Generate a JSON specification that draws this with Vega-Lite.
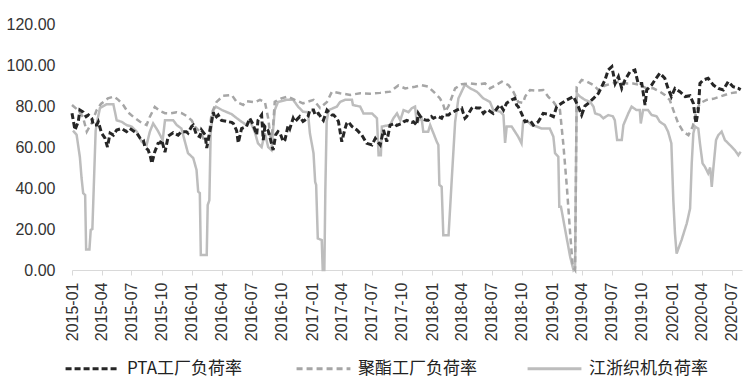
{
  "$schema": "https://vega.github.io/schema/vega-lite/v6.json",
  "autosize": "none",
  "width": 670,
  "height": 246,
  "padding": {"left": 72, "top": 24, "right": 12, "bottom": 115},
  "background": "white",
  "config": {
    "view": {"stroke": null},
    "font": "Liberation Sans",
    "axis": {"labelFont": "Liberation Sans", "labelFontSize": 16, "labelColor": "#333333", "grid": false}
  },
  "encoding": {
    "x": {
      "field": "d", "type": "temporal",
      "scale": {"type": "utc", "domain": ["2015-01-01", "2020-08-01"]},
      "axis": {"title": null, "format": "%Y-%m", "tickCount": {"interval": "month", "step": 3}, "labelAngle": -90, "domainColor": "#d9d9d9", "tickColor": "#d9d9d9", "tickSize": 5, "labelPadding": 7, "labelFlush": false, "labelOverlap": false}
    },
    "y": {
      "field": "v", "type": "quantitative",
      "scale": {"domain": [0, 120], "nice": false},
      "axis": {"title": null, "values": [0, 20, 40, 60, 80, 100, 120], "format": ".2f", "domain": false, "ticks": false, "labelPadding": 17}
    },
    "color": {
      "scale": {"domain": ["PTA工厂负荷率", "聚酯工厂负荷率", "江浙织机负荷率"], "range": ["#262626", "#A6A6A6", "#BDBDBD"]},
      "legend": {"title": null, "orient": "none", "legendX": -8, "legendY": 316, "direction": "horizontal", "columns": 3, "gridAlign": "all", "columnPadding": 44, "symbolType": "stroke", "symbolSize": 2900, "symbolStrokeWidth": 3, "labelFont": "Noto Sans CJK SC", "labelFontSize": 17, "labelColor": "#222222", "labelOffset": 6, "labelLimit": 300}
    },
    "strokeDash": {
      "scale": {"domain": ["PTA工厂负荷率", "聚酯工厂负荷率", "江浙织机负荷率"], "range": [[6, 3], [6, 4], [1, 0]]},
      "legend": {"title": null, "orient": "none", "legendX": -8, "legendY": 316, "direction": "horizontal", "columns": 3, "gridAlign": "all", "columnPadding": 44, "symbolType": "stroke", "symbolSize": 2900, "symbolStrokeWidth": 3, "labelFont": "Noto Sans CJK SC", "labelFontSize": 17, "labelColor": "#222222", "labelOffset": 6, "labelLimit": 300}
    }
  },
  "layer": [
    {
      "data": {"values": [
        {"d":"2015-01-04","v":68},{"d":"2015-01-15","v":66},{"d":"2015-01-25","v":55},{"d":"2015-01-30","v":45},{"d":"2015-02-04","v":37.5},{"d":"2015-02-10","v":36.6},{"d":"2015-02-13","v":10},{"d":"2015-02-23","v":10},{"d":"2015-02-27","v":19.5},{"d":"2015-03-04","v":20},{"d":"2015-03-09","v":44},{"d":"2015-03-14","v":68},{"d":"2015-03-18","v":72},{"d":"2015-03-27","v":79},{"d":"2015-04-16","v":80.8},{"d":"2015-05-07","v":80.8},{"d":"2015-05-17","v":73},{"d":"2015-06-01","v":72.3},{"d":"2015-06-16","v":70.7},{"d":"2015-07-01","v":70},{"d":"2015-07-17","v":67.5},{"d":"2015-08-01","v":62.6},{"d":"2015-08-16","v":61},{"d":"2015-08-26","v":67.5},{"d":"2015-09-05","v":71.5},{"d":"2015-09-19","v":68},{"d":"2015-10-04","v":63.4},{"d":"2015-10-11","v":73},{"d":"2015-11-05","v":73},{"d":"2015-11-16","v":70.7},{"d":"2015-11-30","v":69},{"d":"2015-12-20","v":57},
        {"d":"2016-01-05","v":54.6},{"d":"2016-01-15","v":48.8},{"d":"2016-01-20","v":38.2},{"d":"2016-01-25","v":37.5},{"d":"2016-01-28","v":7.3},{"d":"2016-02-15","v":7.3},{"d":"2016-02-18","v":31.7},{"d":"2016-02-23","v":34},{"d":"2016-02-27","v":66.8},{"d":"2016-03-06","v":78},{"d":"2016-03-14","v":79.7},{"d":"2016-04-02","v":78},{"d":"2016-05-01","v":76},{"d":"2016-05-25","v":73},{"d":"2016-06-15","v":70.7},{"d":"2016-06-25","v":73},{"d":"2016-07-10","v":67.5},{"d":"2016-07-20","v":61.8},{"d":"2016-07-31","v":60},{"d":"2016-08-10","v":66.7},{"d":"2016-08-20","v":60},{"d":"2016-08-30","v":58.5},{"d":"2016-09-09","v":78},{"d":"2016-09-19","v":82},{"d":"2016-10-15","v":83},{"d":"2016-11-04","v":83},{"d":"2016-11-19","v":79.7},{"d":"2016-12-04","v":77.2},{"d":"2016-12-19","v":77},{"d":"2016-12-25","v":66.7},
        {"d":"2017-01-05","v":57},{"d":"2017-01-10","v":43},{"d":"2017-01-13","v":41.5},{"d":"2017-01-18","v":15.4},{"d":"2017-01-30","v":14.6},{"d":"2017-02-02","v":0},{"d":"2017-02-07","v":0},{"d":"2017-02-10","v":39},{"d":"2017-02-14","v":72.3},{"d":"2017-02-20","v":78},{"d":"2017-03-17","v":79.7},{"d":"2017-03-27","v":82},{"d":"2017-04-11","v":83},{"d":"2017-05-02","v":83},{"d":"2017-05-05","v":80.5},{"d":"2017-05-27","v":79.7},{"d":"2017-06-06","v":76.4},{"d":"2017-07-02","v":76.4},{"d":"2017-07-17","v":74},{"d":"2017-07-22","v":56},{"d":"2017-07-29","v":56},{"d":"2017-08-01","v":70},{"d":"2017-08-26","v":70.7},{"d":"2017-09-05","v":74},{"d":"2017-09-16","v":76.4},{"d":"2017-09-26","v":73},{"d":"2017-10-06","v":78},{"d":"2017-10-21","v":77},{"d":"2017-10-31","v":78.9},{"d":"2017-11-10","v":79.7},{"d":"2017-11-15","v":72.3},{"d":"2017-11-30","v":74},{"d":"2017-12-05","v":67.5},{"d":"2017-12-20","v":67.5},{"d":"2017-12-26","v":70.7},
        {"d":"2018-01-05","v":66.7},{"d":"2018-01-15","v":62.6},{"d":"2018-01-20","v":61},{"d":"2018-01-23","v":41.5},{"d":"2018-01-30","v":40.6},{"d":"2018-02-04","v":17},{"d":"2018-02-20","v":17},{"d":"2018-03-02","v":45},{"d":"2018-03-12","v":72.3},{"d":"2018-03-22","v":83.7},{"d":"2018-04-11","v":90.5},{"d":"2018-04-27","v":88.6},{"d":"2018-05-17","v":87},{"d":"2018-06-06","v":83.7},{"d":"2018-06-26","v":82},{"d":"2018-07-06","v":78},{"d":"2018-07-27","v":77.2},{"d":"2018-08-06","v":75.6},{"d":"2018-08-11","v":62},{"d":"2018-08-16","v":70},{"d":"2018-08-31","v":70},{"d":"2018-09-10","v":67.5},{"d":"2018-09-20","v":65},{"d":"2018-09-30","v":61.8},{"d":"2018-10-05","v":72.3},{"d":"2018-10-20","v":72.3},{"d":"2018-10-30","v":70.7},{"d":"2018-11-15","v":70},{"d":"2018-11-30","v":69},{"d":"2018-12-25","v":69},
        {"d":"2019-01-05","v":65},{"d":"2019-01-10","v":57},{"d":"2019-01-20","v":55.3},{"d":"2019-01-23","v":30.9},{"d":"2019-01-28","v":30.9},{"d":"2019-02-10","v":19.5},{"d":"2019-02-25","v":6.5},{"d":"2019-03-07","v":0},{"d":"2019-03-12","v":1},{"d":"2019-03-17","v":86.2},{"d":"2019-03-27","v":84.6},{"d":"2019-04-11","v":83},{"d":"2019-04-27","v":82},{"d":"2019-05-07","v":79.7},{"d":"2019-05-12","v":76.4},{"d":"2019-05-27","v":75.6},{"d":"2019-06-06","v":74},{"d":"2019-06-21","v":75.6},{"d":"2019-07-05","v":75},{"d":"2019-07-11","v":73},{"d":"2019-07-18","v":63.4},{"d":"2019-08-01","v":63.4},{"d":"2019-08-06","v":70.7},{"d":"2019-08-21","v":76.4},{"d":"2019-08-31","v":79.7},{"d":"2019-09-15","v":78},{"d":"2019-09-25","v":78},{"d":"2019-09-28","v":71.5},{"d":"2019-10-05","v":78},{"d":"2019-10-20","v":78},{"d":"2019-10-31","v":75.6},{"d":"2019-11-15","v":75},{"d":"2019-11-25","v":72.3},{"d":"2019-12-10","v":70.7},{"d":"2019-12-20","v":67.5},{"d":"2019-12-30","v":61.8},
        {"d":"2020-01-05","v":34},{"d":"2020-01-10","v":17.9},{"d":"2020-01-15","v":8},{"d":"2020-01-30","v":14.6},{"d":"2020-02-15","v":22.8},{"d":"2020-02-25","v":30},{"d":"2020-03-01","v":52},{"d":"2020-03-06","v":66.7},{"d":"2020-03-11","v":70},{"d":"2020-03-21","v":69},{"d":"2020-03-26","v":61.8},{"d":"2020-04-03","v":52},{"d":"2020-04-10","v":50.4},{"d":"2020-04-20","v":47.2},{"d":"2020-04-26","v":50},{"d":"2020-05-01","v":40.6},{"d":"2020-05-06","v":50},{"d":"2020-05-14","v":63.4},{"d":"2020-05-21","v":65.8},{"d":"2020-05-31","v":67.5},{"d":"2020-06-10","v":63.4},{"d":"2020-06-25","v":61},{"d":"2020-07-10","v":58.5},{"d":"2020-07-21","v":56},{"d":"2020-07-28","v":57.7}
      ]},
      "mark": {"type": "line", "strokeWidth": 2.5, "strokeJoin": "miter"},
      "encoding": {"color": {"datum": "江浙织机负荷率"}, "strokeDash": {"datum": "江浙织机负荷率"}}
    },
    {
      "data": {"values": [
        {"d":"2015-01-01","v":80.5},{"d":"2015-01-19","v":78},{"d":"2015-02-03","v":74.8},{"d":"2015-02-15","v":67.5},{"d":"2015-03-02","v":71.7},{"d":"2015-03-17","v":78},{"d":"2015-03-30","v":81},{"d":"2015-04-20","v":83.7},{"d":"2015-05-09","v":84.6},{"d":"2015-05-22","v":83},{"d":"2015-06-06","v":80.5},{"d":"2015-06-20","v":77},{"d":"2015-07-06","v":74.8},{"d":"2015-07-27","v":72.3},{"d":"2015-08-16","v":70.7},{"d":"2015-08-26","v":74.8},{"d":"2015-09-10","v":79.5},{"d":"2015-09-26","v":77.5},{"d":"2015-10-11","v":76.5},{"d":"2015-10-26","v":76.4},{"d":"2015-11-15","v":77},{"d":"2015-12-01","v":76.5},{"d":"2015-12-17","v":75},{"d":"2015-12-31","v":73},
        {"d":"2016-01-10","v":70},{"d":"2016-01-25","v":67.5},{"d":"2016-02-10","v":62.6},{"d":"2016-02-20","v":64},{"d":"2016-03-01","v":76.4},{"d":"2016-03-16","v":82},{"d":"2016-04-05","v":85},{"d":"2016-05-01","v":85.4},{"d":"2016-05-16","v":82},{"d":"2016-06-05","v":80.5},{"d":"2016-06-15","v":82.4},{"d":"2016-07-10","v":81.8},{"d":"2016-07-26","v":83},{"d":"2016-08-10","v":82},{"d":"2016-08-20","v":74},{"d":"2016-08-28","v":64},{"d":"2016-09-04","v":70},{"d":"2016-09-09","v":82},{"d":"2016-09-29","v":83.7},{"d":"2016-10-19","v":84.6},{"d":"2016-11-09","v":83},{"d":"2016-12-04","v":81.3},
        {"d":"2017-01-05","v":83},{"d":"2017-01-25","v":79},{"d":"2017-02-15","v":82},{"d":"2017-03-02","v":87},{"d":"2017-03-27","v":86.2},{"d":"2017-04-27","v":85.4},{"d":"2017-05-27","v":86.2},{"d":"2017-06-26","v":86},{"d":"2017-07-27","v":86.4},{"d":"2017-08-26","v":87},{"d":"2017-09-20","v":90},{"d":"2017-10-11","v":88.6},{"d":"2017-11-10","v":89.4},{"d":"2017-11-30","v":90.2},{"d":"2017-12-20","v":89.5},
        {"d":"2018-01-10","v":86.2},{"d":"2018-01-25","v":83.7},{"d":"2018-02-04","v":80.5},{"d":"2018-02-10","v":77.2},{"d":"2018-02-20","v":80},{"d":"2018-03-12","v":88.6},{"d":"2018-04-01","v":90.6},{"d":"2018-04-27","v":91},{"d":"2018-05-22","v":90.5},{"d":"2018-06-11","v":91},{"d":"2018-06-26","v":88.6},{"d":"2018-07-12","v":90},{"d":"2018-08-01","v":91.9},{"d":"2018-08-21","v":90.2},{"d":"2018-09-05","v":87},{"d":"2018-09-20","v":82},{"d":"2018-10-05","v":81.5},{"d":"2018-10-11","v":84.6},{"d":"2018-10-26","v":87.8},{"d":"2018-11-15","v":87.5},{"d":"2018-12-05","v":87.8},{"d":"2018-12-20","v":84.6},
        {"d":"2019-01-05","v":82},{"d":"2019-01-15","v":79.7},{"d":"2019-01-25","v":78},{"d":"2019-02-04","v":61.8},{"d":"2019-02-15","v":40.6},{"d":"2019-02-25","v":17.9},{"d":"2019-03-05","v":1.6},{"d":"2019-03-12","v":0},{"d":"2019-03-17","v":89.4},{"d":"2019-04-01","v":92.7},{"d":"2019-04-16","v":92},{"d":"2019-05-07","v":90.2},{"d":"2019-05-22","v":87.8},{"d":"2019-06-11","v":90},{"d":"2019-07-02","v":91},{"d":"2019-07-27","v":92},{"d":"2019-08-16","v":91},{"d":"2019-09-05","v":91},{"d":"2019-09-25","v":90.2},{"d":"2019-10-16","v":88.6},{"d":"2019-11-05","v":88.6},{"d":"2019-11-25","v":87},{"d":"2019-12-10","v":85.4},{"d":"2019-12-25","v":83},
        {"d":"2020-01-05","v":78},{"d":"2020-01-20","v":71.5},{"d":"2020-02-04","v":67.5},{"d":"2020-02-20","v":65.8},{"d":"2020-03-04","v":70},{"d":"2020-03-16","v":78},{"d":"2020-03-26","v":81.3},{"d":"2020-04-15","v":83},{"d":"2020-05-06","v":83.5},{"d":"2020-05-26","v":84.6},{"d":"2020-06-25","v":86.2},{"d":"2020-07-26","v":87}
      ]},
      "mark": {"type": "line", "strokeWidth": 2.5},
      "encoding": {"color": {"datum": "聚酯工厂负荷率"}, "strokeDash": {"datum": "聚酯工厂负荷率"}}
    },
    {
      "data": {"values": [
        {"d":"2015-01-01","v":76.5},{"d":"2015-01-10","v":68.3},{"d":"2015-01-20","v":72.3},{"d":"2015-01-25","v":78},{"d":"2015-02-04","v":77},{"d":"2015-02-13","v":74.8},{"d":"2015-02-20","v":75.6},{"d":"2015-03-02","v":74},{"d":"2015-03-07","v":70.7},{"d":"2015-03-17","v":70.7},{"d":"2015-03-22","v":72.3},{"d":"2015-04-01","v":66.8},{"d":"2015-04-11","v":64.4},{"d":"2015-04-19","v":60},{"d":"2015-04-27","v":66.8},{"d":"2015-05-07","v":65.8},{"d":"2015-05-17","v":68.3},{"d":"2015-06-01","v":69},{"d":"2015-06-16","v":67.5},{"d":"2015-06-26","v":69},{"d":"2015-07-05","v":68},{"d":"2015-07-17","v":66.8},{"d":"2015-07-27","v":64.4},{"d":"2015-08-06","v":63.4},{"d":"2015-08-11","v":60},{"d":"2015-08-21","v":58.5},{"d":"2015-08-28","v":55},{"d":"2015-09-01","v":52},{"d":"2015-09-10","v":57.7},{"d":"2015-09-20","v":61.8},{"d":"2015-09-26","v":62},{"d":"2015-10-01","v":63.4},{"d":"2015-10-11","v":57.5},{"d":"2015-10-21","v":65.4},{"d":"2015-11-05","v":67},{"d":"2015-11-20","v":65.8},{"d":"2015-11-30","v":67.5},{"d":"2015-12-15","v":67.5},{"d":"2015-12-20","v":66.8},{"d":"2015-12-31","v":70},
        {"d":"2016-01-05","v":70.7},{"d":"2016-01-15","v":65.8},{"d":"2016-01-25","v":65},{"d":"2016-01-30","v":68.3},{"d":"2016-02-10","v":66},{"d":"2016-02-15","v":59.5},{"d":"2016-02-25","v":68},{"d":"2016-03-06","v":77},{"d":"2016-03-11","v":74},{"d":"2016-03-21","v":75.6},{"d":"2016-03-31","v":73},{"d":"2016-04-15","v":72.5},{"d":"2016-05-01","v":72},{"d":"2016-05-06","v":71.5},{"d":"2016-05-16","v":68},{"d":"2016-05-21","v":62},{"d":"2016-05-31","v":69},{"d":"2016-06-15","v":70},{"d":"2016-06-25","v":74},{"d":"2016-07-05","v":71},{"d":"2016-07-16","v":66},{"d":"2016-07-20","v":73},{"d":"2016-07-31","v":75.6},{"d":"2016-08-05","v":63.4},{"d":"2016-08-10","v":70},{"d":"2016-08-20","v":68},{"d":"2016-08-25","v":65},{"d":"2016-09-04","v":58.5},{"d":"2016-09-12","v":66},{"d":"2016-09-19","v":67.5},{"d":"2016-09-25","v":66.8},{"d":"2016-10-05","v":62.6},{"d":"2016-10-10","v":63.4},{"d":"2016-10-20","v":70.7},{"d":"2016-10-25","v":69},{"d":"2016-11-04","v":74},{"d":"2016-11-09","v":72.3},{"d":"2016-11-24","v":74.8},{"d":"2016-12-04","v":72.5},{"d":"2016-12-09","v":73},{"d":"2016-12-19","v":74.8},{"d":"2016-12-25","v":78},
        {"d":"2017-01-05","v":78},{"d":"2017-01-10","v":75.6},{"d":"2017-01-20","v":76.4},{"d":"2017-01-30","v":74},{"d":"2017-02-04","v":73},{"d":"2017-02-15","v":78},{"d":"2017-02-20","v":77.2},{"d":"2017-03-02","v":75.6},{"d":"2017-03-07","v":75.6},{"d":"2017-03-17","v":74},{"d":"2017-03-22","v":72.3},{"d":"2017-04-01","v":62.6},{"d":"2017-04-11","v":69},{"d":"2017-04-16","v":71.5},{"d":"2017-04-21","v":72.3},{"d":"2017-05-02","v":70},{"d":"2017-05-17","v":68.3},{"d":"2017-06-01","v":65.8},{"d":"2017-06-16","v":61.8},{"d":"2017-07-02","v":61},{"d":"2017-07-12","v":64.2},{"d":"2017-07-17","v":63},{"d":"2017-07-27","v":61},{"d":"2017-08-06","v":68.3},{"d":"2017-08-16","v":62.6},{"d":"2017-08-26","v":70.7},{"d":"2017-09-10","v":71.5},{"d":"2017-09-15","v":70.5},{"d":"2017-09-30","v":71.5},{"d":"2017-10-06","v":72.3},{"d":"2017-10-16","v":73},{"d":"2017-10-31","v":72},{"d":"2017-11-05","v":72.3},{"d":"2017-11-15","v":70.7},{"d":"2017-11-20","v":76.4},{"d":"2017-11-30","v":74},{"d":"2017-12-05","v":73.5},{"d":"2017-12-15","v":73},{"d":"2017-12-20","v":73},{"d":"2017-12-30","v":74.8},
        {"d":"2018-01-05","v":74},{"d":"2018-01-15","v":74.8},{"d":"2018-01-20","v":74.8},{"d":"2018-01-30","v":74},{"d":"2018-02-04","v":75.6},{"d":"2018-02-20","v":75.6},{"d":"2018-02-25","v":76.4},{"d":"2018-03-17","v":78},{"d":"2018-04-01","v":79},{"d":"2018-04-06","v":76.4},{"d":"2018-04-11","v":74},{"d":"2018-04-16","v":74.8},{"d":"2018-05-02","v":79},{"d":"2018-05-07","v":79.7},{"d":"2018-05-17","v":79},{"d":"2018-05-27","v":79},{"d":"2018-06-06","v":76.4},{"d":"2018-06-16","v":78},{"d":"2018-06-21","v":78},{"d":"2018-07-06","v":76.4},{"d":"2018-07-22","v":79.7},{"d":"2018-07-27","v":80.5},{"d":"2018-08-06","v":78},{"d":"2018-08-16","v":81.5},{"d":"2018-08-21","v":82},{"d":"2018-08-31","v":83},{"d":"2018-09-10","v":83.7},{"d":"2018-09-15","v":80.5},{"d":"2018-09-20","v":79.7},{"d":"2018-09-30","v":76.4},{"d":"2018-10-11","v":72.3},{"d":"2018-10-26","v":73},{"d":"2018-11-05","v":70.7},{"d":"2018-11-20","v":72.3},{"d":"2018-12-05","v":76.4},{"d":"2018-12-20","v":76},
        {"d":"2019-01-05","v":74.8},{"d":"2019-01-15","v":79.7},{"d":"2019-01-30","v":81.3},{"d":"2019-02-15","v":83},{"d":"2019-03-07","v":84.6},{"d":"2019-03-22","v":79.7},{"d":"2019-04-01","v":75.6},{"d":"2019-04-11","v":80},{"d":"2019-04-21","v":81.3},{"d":"2019-05-07","v":83.7},{"d":"2019-05-22","v":86.2},{"d":"2019-06-01","v":89.4},{"d":"2019-06-11","v":92.7},{"d":"2019-06-21","v":97.6},{"d":"2019-07-02","v":99.2},{"d":"2019-07-12","v":91},{"d":"2019-07-22","v":94.3},{"d":"2019-08-01","v":88.6},{"d":"2019-08-11","v":92.7},{"d":"2019-08-26","v":96.7},{"d":"2019-09-10","v":97.6},{"d":"2019-09-20","v":91},{"d":"2019-10-01","v":91},{"d":"2019-10-11","v":80.5},{"d":"2019-10-16","v":87.8},{"d":"2019-10-31","v":90.2},{"d":"2019-11-10","v":92.7},{"d":"2019-11-25","v":96},{"d":"2019-12-10","v":93.5},{"d":"2019-12-20","v":88.6},{"d":"2019-12-30","v":84.6},
        {"d":"2020-01-10","v":88.6},{"d":"2020-01-25","v":87},{"d":"2020-02-10","v":84.6},{"d":"2020-02-25","v":85},{"d":"2020-03-06","v":81.3},{"d":"2020-03-14","v":71.5},{"d":"2020-03-21","v":78},{"d":"2020-03-26","v":91},{"d":"2020-04-05","v":92.7},{"d":"2020-04-20","v":93.5},{"d":"2020-05-06","v":90.2},{"d":"2020-05-21","v":88.6},{"d":"2020-06-05","v":87.8},{"d":"2020-06-20","v":91.9},{"d":"2020-07-05","v":89.4},{"d":"2020-07-21","v":88.6},{"d":"2020-07-28","v":88}
      ]},
      "mark": {"type": "line", "strokeWidth": 3},
      "encoding": {"color": {"datum": "PTA工厂负荷率"}, "strokeDash": {"datum": "PTA工厂负荷率"}}
    }
  ]
}
